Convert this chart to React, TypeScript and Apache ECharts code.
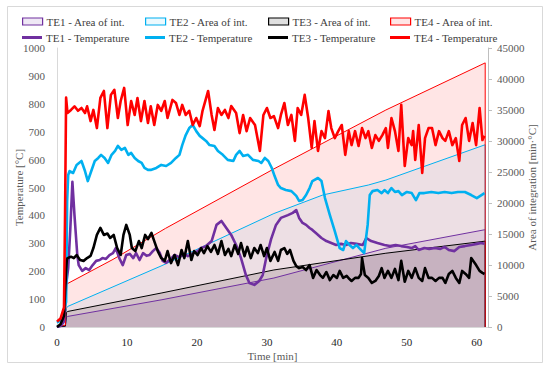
import React, { useEffect, useRef } from "react";
import * as echarts from "echarts";

type Pt = [number, number];

const timeTicks = [0, 10, 20, 30, 40, 50, 60];

const seriesNames = ["TE1", "TE2", "TE3", "TE4"];
const lineColors = ["#7030A0", "#00B0F0", "#000000", "#FF0000"];
const areaFills = ["rgba(112,48,160,0.11)", "rgba(0,176,240,0.08)", "rgba(0,0,0,0.12)", "rgba(255,0,0,0.1)"];

// Temperature [°C] vs time [min]
const te1Temperature: Pt[] = [[0,0],[0.6,5],[1.0,20],[1.3,150],[1.6,211],[1.9,350],[2.2,520],[2.5,400],[2.9,258],[3.1,222],[3.6,201],[4.1,211],[4.6,204],[5.1,222],[5.6,237],[6.1,240],[6.5,247],[7.0,244],[7.5,258],[8.0,265],[8.4,283],[8.9,247],[9.4,222],[9.9,258],[10.4,262],[10.9,247],[11.3,265],[11.8,240],[12.3,265],[12.8,255],[13.2,258],[13.7,272],[14.2,283],[14.7,265],[15.1,237],[15.6,230],[16.3,245],[16.8,258],[17.5,250],[18.2,262],[18.7,254],[19.5,265],[20.1,272],[20.6,283],[21.3,290],[22.1,308],[22.8,366],[23.5,380],[24.2,355],[24.9,330],[25.6,294],[26.3,247],[27.0,186],[27.5,158],[28.2,151],[28.9,165],[29.4,186],[29.9,247],[30.6,315],[31.3,366],[32.0,391],[33.0,401],[33.7,409],[34.2,419],[34.6,391],[35.1,373],[35.6,366],[36.1,355],[36.5,348],[37.0,337],[37.8,319],[38.5,308],[39.2,301],[39.9,294],[40.6,298],[41.3,294],[42.0,301],[42.8,298],[43.7,294],[44.2,319],[44.9,308],[45.8,301],[46.8,294],[47.6,290],[48.4,294],[49.2,290],[50.0,287],[50.7,283],[51.2,290],[51.7,276],[52.5,283],[53.2,280],[54.0,283],[54.8,280],[55.4,287],[56.0,276],[56.8,272],[57.5,287],[58.3,290],[59.2,294],[60.0,298],[60.6,301],[61.1,298]];

const te2Temperature: Pt[] = [[0,15],[0.5,25],[1.0,60],[1.3,90],[1.45,450],[1.6,545],[1.8,559],[2.3,552],[2.8,581],[3.5,595],[4.0,559],[4.4,523],[4.9,559],[5.4,595],[5.9,606],[6.3,617],[6.8,606],[7.3,588],[7.8,617],[8.3,631],[8.7,649],[9.2,635],[9.7,642],[10.2,617],[10.6,624],[11.1,606],[11.6,595],[12.1,588],[12.5,570],[13.0,563],[13.4,563],[14.2,570],[14.9,581],[15.6,577],[16.3,588],[17.0,606],[17.5,617],[17.9,652],[18.4,688],[18.9,713],[19.4,724],[19.9,702],[20.4,685],[20.8,677],[21.3,667],[21.8,652],[22.5,649],[23.0,631],[23.7,617],[24.4,599],[25.2,595],[25.6,617],[26.1,631],[26.6,613],[27.3,617],[28.0,599],[28.8,595],[29.2,588],[29.7,606],[30.2,595],[30.7,570],[31.1,541],[31.6,509],[32.0,498],[32.7,491],[33.5,487],[34.2,470],[34.6,452],[35.1,455],[35.6,473],[36.1,498],[36.5,523],[37.3,534],[37.8,523],[38.3,462],[39.0,401],[39.7,344],[40.4,283],[40.9,276],[41.3,308],[41.8,294],[42.3,283],[42.8,294],[43.2,283],[43.9,265],[44.4,366],[44.7,473],[45.1,487],[45.8,491],[46.4,480],[46.8,491],[47.3,480],[47.8,498],[48.3,484],[48.8,487],[49.3,473],[50.0,484],[50.7,480],[51.3,455],[51.8,480],[52.5,480],[53.5,484],[54.5,480],[55.4,484],[56.4,480],[57.3,484],[58.3,484],[59.2,473],[60.0,462],[60.5,470],[61.1,480]];

const te3Temperature: Pt[] = [[0,0],[0.5,10],[1.0,40],[1.2,150],[1.4,240],[1.5,247],[2.0,252],[2.4,247],[2.8,258],[3.3,240],[3.8,237],[4.3,247],[4.8,255],[5.2,283],[5.7,330],[6.2,355],[6.7,330],[7.2,335],[7.6,319],[8.1,330],[8.6,283],[9.1,258],[9.5,330],[9.9,366],[10.4,330],[10.7,283],[11.2,272],[11.7,308],[12.1,283],[12.6,330],[13.0,315],[13.5,337],[13.9,308],[14.4,272],[14.9,247],[15.4,237],[15.8,272],[16.3,229],[16.8,258],[17.3,222],[17.8,276],[18.2,247],[18.7,308],[19.2,240],[19.6,272],[20.1,258],[20.6,283],[21.0,265],[21.5,290],[22.0,269],[22.5,294],[23.0,262],[23.5,308],[24.0,258],[24.5,280],[24.9,254],[25.4,294],[25.9,262],[26.3,301],[26.8,254],[27.2,287],[27.7,247],[28.2,283],[28.7,265],[29.1,294],[29.6,254],[30.0,283],[30.5,237],[31.1,269],[31.6,237],[32.0,276],[32.5,283],[32.9,262],[33.3,276],[33.8,237],[34.2,218],[34.6,211],[35.1,215],[35.6,204],[36.1,222],[36.6,176],[37.1,204],[37.6,186],[38.0,176],[38.5,197],[39.0,168],[39.5,186],[40.0,176],[40.4,201],[40.9,176],[41.4,183],[41.8,172],[42.1,165],[42.6,176],[43.1,176],[43.45,190],[43.6,247],[44.0,186],[44.5,176],[45.0,158],[45.5,165],[46.0,183],[46.4,211],[46.8,176],[47.3,201],[47.8,176],[48.3,208],[48.8,168],[49.2,237],[49.7,162],[50.2,201],[50.7,176],[51.2,211],[51.7,176],[52.2,165],[52.6,211],[53.1,176],[53.6,176],[54.1,165],[54.6,176],[55.1,176],[55.5,158],[56.0,190],[56.5,201],[57.0,176],[57.5,158],[57.9,201],[58.4,190],[58.9,176],[59.2,247],[59.9,222],[60.4,201],[60.8,194],[61.1,190]];

const te4Temperature: Pt[] = [[0,20],[0.5,30],[1.0,70],[1.15,400],[1.3,822],[1.5,767],[2.0,778],[2.5,791],[3.0,775],[3.5,785],[4.0,767],[4.3,791],[4.8,738],[5.2,778],[5.7,713],[6.2,821],[6.7,846],[7.2,713],[7.7,832],[8.2,850],[8.7,749],[9.1,810],[9.6,857],[10.1,724],[10.6,810],[11.1,760],[11.5,821],[12.0,738],[12.5,810],[13.0,731],[13.4,791],[13.9,724],[14.4,796],[14.9,775],[15.4,810],[15.8,749],[16.5,814],[17.0,803],[17.5,760],[17.9,796],[18.4,760],[18.9,775],[19.4,724],[19.9,749],[20.4,720],[20.8,775],[21.6,846],[22.1,760],[22.5,706],[23.0,785],[23.5,760],[24.0,778],[24.5,749],[24.9,792],[25.6,767],[26.1,695],[26.6,760],[27.1,702],[27.6,749],[28.3,724],[29.0,631],[29.5,760],[30.0,785],[30.5,749],[31.0,756],[31.6,713],[32.0,760],[32.5,803],[33.0,724],[33.5,760],[34.0,667],[34.4,785],[34.9,760],[35.4,832],[35.9,749],[36.4,642],[36.8,738],[37.3,631],[37.8,702],[38.3,677],[38.8,774],[39.2,713],[39.7,677],[40.2,702],[40.7,724],[41.2,617],[41.7,702],[42.1,652],[42.6,702],[43.1,649],[43.6,713],[44.1,677],[44.5,702],[45.0,642],[45.5,688],[46.0,667],[46.5,688],[47.0,713],[47.3,642],[47.8,749],[48.3,702],[48.8,631],[49.2,796],[49.7,577],[50.2,677],[50.7,652],[50.9,702],[51.2,599],[51.7,724],[52.2,552],[52.6,677],[53.1,713],[53.6,713],[54.1,652],[54.6,702],[55.1,677],[55.5,667],[56.0,702],[56.5,652],[57.0,677],[57.5,595],[57.9,724],[58.4,749],[58.9,667],[59.4,731],[59.9,652],[60.4,785],[60.8,670],[61.1,685]];

// Area of integration [min·°C] vs time [min]
const te1Area: Pt[] = [[0,0],[1.2,100],[1.35,1500],[1.5,1700],[15,4400],[31,7900],[47,12700],[61.2,15700],[61.2,0]];
const te2Area: Pt[] = [[0,0],[1.2,200],[1.35,3000],[1.5,3300],[15,9900],[31,18300],[38,21300],[44.5,22900],[47,23700],[61.2,29400],[61.2,0]];
const te3Area: Pt[] = [[0,0],[1.2,150],[1.35,2300],[1.5,2500],[15,5500],[31,9200],[47,11900],[61.2,13850],[61.2,0]];
const te4Area: Pt[] = [[0,0],[1.2,300],[1.35,6800],[1.5,7000],[8,10900],[15.5,15900],[31,25500],[47,35000],[61.2,42600],[61.2,0]];

const temperatures = [te1Temperature, te2Temperature, te3Temperature, te4Temperature];
const areas = [te1Area, te2Area, te3Area, te4Area];

const FONT = "Liberation Serif";

export default function App() {
  const ref = useRef<HTMLDivElement>(null);

  useEffect(() => {
    if (!ref.current) return;
    const chart = echarts.init(ref.current, null, { renderer: "svg" });

    const areaSeries = seriesNames.map((n, i) => ({
      name: `${n} - Area of int.`,
      type: "line",
      yAxisIndex: 1,
      data: areas[i],
      symbol: "none",
      lineStyle: { color: lineColors[i], width: 1 },
      itemStyle: { color: lineColors[i] },
      areaStyle: { color: areaFills[i], opacity: 1 },
      z: 2,
    }));
    const tempSeries = seriesNames.map((n, i) => ({
      name: `${n} - Temperature`,
      type: "line",
      yAxisIndex: 0,
      data: temperatures[i],
      symbol: "none",
      lineStyle: { color: lineColors[i], width: 2.6, join: "round" },
      itemStyle: { color: lineColors[i] },
      z: 3,
    }));

    const colX = [22, 145, 268, 390];
    const legends: any[] = [];
    seriesNames.forEach((n, i) => {
      legends.push({
        left: colX[i], top: 16, padding: 0, itemWidth: 20, itemHeight: 7, itemGap: 0,
        selectedMode: false,
        textStyle: { fontFamily: FONT, fontSize: 11, color: "#404040", padding: [0, 0, 0, -1] },
        data: [{ name: `${n} - Area of int.`, icon: "rect",
          itemStyle: { color: areaFills[i], borderColor: lineColors[i], borderWidth: 1.2 } }],
      });
      legends.push({
        left: colX[i], top: 32, padding: 0, itemWidth: 20, itemHeight: 3, itemGap: 0,
        selectedMode: false,
        textStyle: { fontFamily: FONT, fontSize: 11, color: "#404040", padding: [0, 0, 0, -1] },
        data: [{ name: `${n} - Temperature`, icon: "rect",
          itemStyle: { color: lineColors[i], borderWidth: 0 } }],
      });
    });

    chart.setOption({
      animation: false,
      backgroundColor: "#ffffff",
      textStyle: { fontFamily: FONT },
      graphic: [{
        type: "rect", shape: { x: 7.5, y: 6.5, width: 535, height: 356 },
        style: { fill: "none", stroke: "#d9d9d9", lineWidth: 1 }, silent: true, z: -1,
      }],
      legend: legends,
      grid: { left: 57, right: 62, top: 48, bottom: 46, containLabel: false, outerBoundsMode: "none" },
      xAxis: {
        type: "value", min: 0, max: 61.6, interval: 10,
        axisLine: { show: true, lineStyle: { color: "#d9d9d9" } },
        axisTick: { show: false },
        splitLine: { show: false },
        axisLabel: {
          fontFamily: FONT, fontSize: 11, color: "#262626", margin: 9,
          formatter: (v: number) => (timeTicks.includes(v) ? String(v) : ""),
        },
        name: "Time [min]", nameLocation: "middle", nameGap: 23, nameMoveOverlap: false,
        nameTextStyle: { fontFamily: FONT, fontSize: 11, color: "#595959" },
      },
      yAxis: [
        {
          type: "value", min: 0, max: 1000, interval: 100, position: "left",
          axisLine: { show: true, lineStyle: { color: "#d9d9d9" } },
          axisTick: { show: false },
          splitLine: { show: false },
          axisLabel: { fontFamily: FONT, fontSize: 11, color: "#595959", margin: 12, formatter: (v: number) => String(v) },
          name: "Temperature [°C]", nameLocation: "middle", nameGap: 33, nameRotate: 90, nameMoveOverlap: false,
          nameTextStyle: { fontFamily: FONT, fontSize: 11, color: "#595959" },
        },
        {
          type: "value", min: 0, max: 45000, interval: 5000, position: "right",
          axisLine: { show: true, lineStyle: { color: "#bfbfbf" } },
          axisTick: { show: true, length: 4, lineStyle: { color: "#bfbfbf" } },
          splitLine: { show: false },
          axisLabel: { fontFamily: FONT, fontSize: 11, color: "#595959", margin: 9, formatter: (v: number) => String(v) },
          name: "Area of integration [min·°C]", nameLocation: "middle", nameGap: 38, nameRotate: 90, nameMoveOverlap: false,
          nameTextStyle: { fontFamily: FONT, fontSize: 11, color: "#595959" },
        },
      ],
      series: [...areaSeries, ...tempSeries],
    });

    return () => chart.dispose();
  }, []);

  return (
    <div
      ref={ref}
      style={{ position: "fixed", left: 0, top: 0, width: 550, height: 373, background: "#fff" }}
    />
  );
}
